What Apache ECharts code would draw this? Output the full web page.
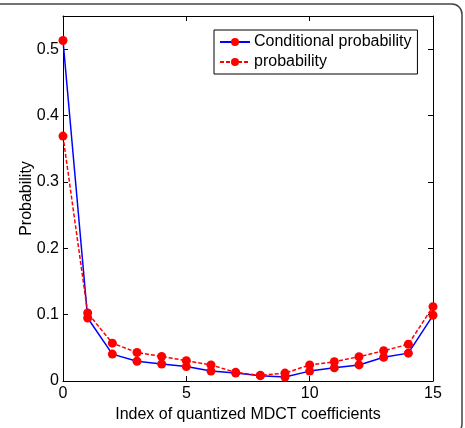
<!DOCTYPE html>
<html><head><meta charset="utf-8">
<script src="https://cdn.jsdelivr.net/npm/echarts@6/dist/echarts.min.js"></script>
<style>html,body{margin:0;padding:0;background:#fff}#c{width:465px;height:428px}</style>
</head><body><div id="c"></div>
<script>
var categories = [0,1,2,3,4,5,6,7,8,9,10,11,12,13,14,15];
var conditionalProb = [0.513,0.095,0.0405,0.0297,0.0257,0.0217,0.0149,0.012,0.008,0.006,0.0149,0.0198,0.0242,0.0357,0.042,0.099];
var probability = [0.369,0.1025,0.057,0.043,0.037,0.0306,0.0242,0.013,0.0085,0.0119,0.0242,0.029,0.0366,0.0455,0.0554,0.112];
var xTicks = [0,5,10,15];
var yTicks = [0,0.1,0.2,0.3,0.4,0.5];

var font = 'Liberation Sans, Arial, sans-serif';
var chart = echarts.init(document.getElementById('c'));
function pairs(arr){return categories.map(function(x,i){return [x,arr[i]];});}
var axLine = {show:true,onZero:false,lineStyle:{color:'#000',width:1}};
var tick = {show:true,inside:true,length:5,lineStyle:{color:'#000'}};
chart.setOption({
  animation:false,
  backgroundColor:'#fff',
  graphic:[{type:'rect',shape:{x:-10,y:4,width:472,height:430,r:10},style:{fill:'none',stroke:'#444',lineWidth:1.5},silent:true}],
  grid:{left:63,right:32,top:16,bottom:41},
  legend:{
    left:214, top:30, orient:'vertical', itemWidth:30, itemHeight:10, itemGap:4,
    padding:[4,6,4,5],
    borderColor:'#000', borderWidth:1, backgroundColor:'#fff',
    textStyle:{fontFamily:font,fontSize:16,color:'#000',padding:[0,0,0,-1]},
    data:['Conditional probability','probability']
  },
  xAxis:[{
    type:'value', min:0, max:15, interval:5,
    axisLine:axLine, axisTick:tick,
    axisLabel:{fontFamily:font,fontSize:16,color:'#000',margin:5,
      formatter:function(v){return xTicks.indexOf(v)>=0?String(v):'';}},
    splitLine:{show:false},
    name:'Index of quantized MDCT coefficients', nameLocation:'middle', nameGap:26, nameMoveOverlap:false,
    nameTextStyle:{fontFamily:font,fontSize:16,color:'#000'}
  },{
    type:'value', position:'top', min:0, max:15, interval:5,
    axisLine:axLine, axisTick:tick,
    axisLabel:{show:false}, splitLine:{show:false}
  }],
  yAxis:[{
    type:'value', min:0, max:0.55, interval:0.1,
    axisLine:axLine, axisTick:tick,
    axisLabel:{fontFamily:font,fontSize:16,color:'#000',margin:4,showMaxLabel:false,
      formatter:function(v){for(var i=0;i<yTicks.length;i++){if(Math.abs(yTicks[i]-v)<1e-9)return String(yTicks[i]);}return '';}},
    splitLine:{show:false},
    name:'Probability', nameLocation:'middle', nameGap:28, nameMoveOverlap:false,
    nameTextStyle:{fontFamily:font,fontSize:16,color:'#000'}
  },{
    type:'value', position:'right', min:0, max:0.55, interval:0.1,
    axisLine:axLine, axisTick:tick,
    axisLabel:{show:false}, splitLine:{show:false}
  }],
  series:[{
    name:'Conditional probability', type:'line', data:pairs(conditionalProb),
    symbol:'circle', symbolSize:9, z:3,
    lineStyle:{color:'#0000ff',width:1.5,type:'solid'},
    itemStyle:{color:'#ff0000'}
  },{
    name:'probability', type:'line', data:pairs(probability),
    symbol:'circle', symbolSize:9, z:4,
    lineStyle:{color:'#ff0000',width:1.5,type:[4,2]},
    itemStyle:{color:'#ff0000'}
  }]
});
</script></body></html>
